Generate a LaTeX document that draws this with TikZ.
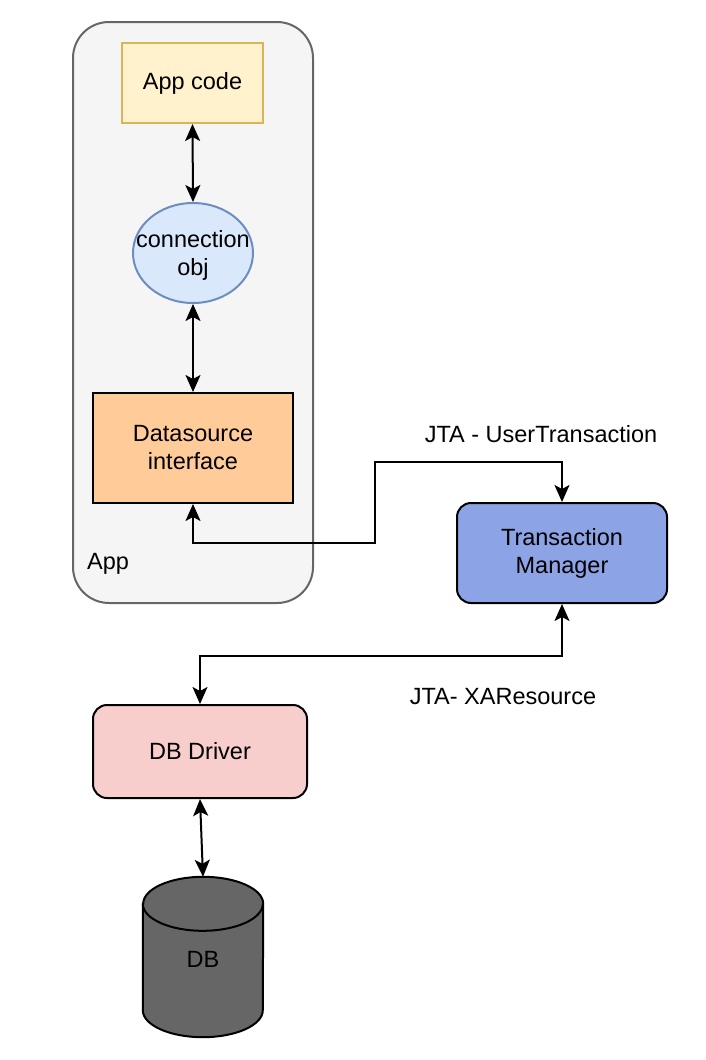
\documentclass[tikz,border=0pt]{standalone}
\usepackage{fontspec}
\setmainfont{Liberation Sans}
\usetikzlibrary{arrows.meta,shapes.geometric}

\definecolor{appbg}{HTML}{F5F5F5}
\definecolor{appline}{HTML}{666666}
\definecolor{codefill}{HTML}{FFF2CC}
\definecolor{codeline}{HTML}{D6B656}
\definecolor{connfill}{HTML}{DAE8FC}
\definecolor{connline}{HTML}{6C8EBF}
\definecolor{dsfill}{HTML}{FFCC99}
\definecolor{tmfill}{HTML}{8CA3E6}
\definecolor{drvfill}{HTML}{F8CECC}
\definecolor{dbfill}{HTML}{666666}

\tikzset{
  txt/.style={font=\fontsize{23.5}{28}\selectfont, align=center, inner sep=0pt},
  box/.style={txt, draw, line width=2pt},
  link/.style={line width=2pt,
    {Stealth[length=17pt,width=15pt,inset=4pt]}-{Stealth[length=17pt,width=15pt,inset=4pt]}},
}

\begin{document}
\begin{tikzpicture}[x=1pt,y=-1pt]
    \useasboundingbox (0,0) rectangle (706,1060);

    \node[draw=appline, fill=appbg, line width=2pt, rounded corners=36pt,
          minimum width=240, minimum height=581] (app) at (193,312.5) {};
    \node[txt, anchor=west] (applbl) at (87,564) {App};

    \node[box, draw=codeline, fill=codefill, minimum width=141, minimum height=80] (code) at (192.5,83) {App code};
    \node[ellipse, draw=connline, fill=connfill, line width=2pt,
          minimum width=120, minimum height=100] (conn) at (193,253) {};
    \node[txt] (connlbl) at (193,255) {connection\\obj};
    \node[box, fill=dsfill, minimum width=200, minimum height=110] (ds) at (193,448) {Datasource\\interface};

    \node[box, fill=tmfill, rounded corners=14pt, minimum width=210, minimum height=100] (tm) at (562,553) {Transaction\\Manager};
    \node[box, fill=drvfill, rounded corners=14pt, minimum width=214, minimum height=93] (drv) at (200,751.5) {DB Driver};

    % DB cylinder
    \node[txt, minimum width=120, minimum height=160] (db) at (203,957) {};
    \draw[line width=2pt, fill=dbfill] ([yshift=-27pt]db.north west)
      -- ([yshift=27pt]db.south west) arc[start angle=180,end angle=360,x radius=60pt,y radius=27pt]
      -- ([yshift=-27pt]db.north east) arc[start angle=0,end angle=180,x radius=60pt,y radius=27pt]
      -- cycle;
    \draw[line width=2pt] ([yshift=-27pt]db.north west) arc[start angle=180,end angle=360,x radius=60pt,y radius=27pt];
    \node[txt] (dblbl) at (203,959) {DB};

    \node[txt] (jtaut) at (541,434) {JTA - UserTransaction};
    \node[txt] (jtaxa) at (503,697) {JTA- XAResource};

    \coordinate (bendA) at (375,543);
    \coordinate (bendB) at (375,462);

    \draw[link] (code.south) -- (conn.north);
    \draw[link] (conn.south) -- (ds.north);
    \draw[link] (ds.south) |- (bendA) -- (bendB) -| (tm.north);
    \draw[link] (tm.south) -- ++(0,52) -| (drv.north);
    \draw[link] (drv.south) -- (db.north);
  \end{tikzpicture}
\end{document}
